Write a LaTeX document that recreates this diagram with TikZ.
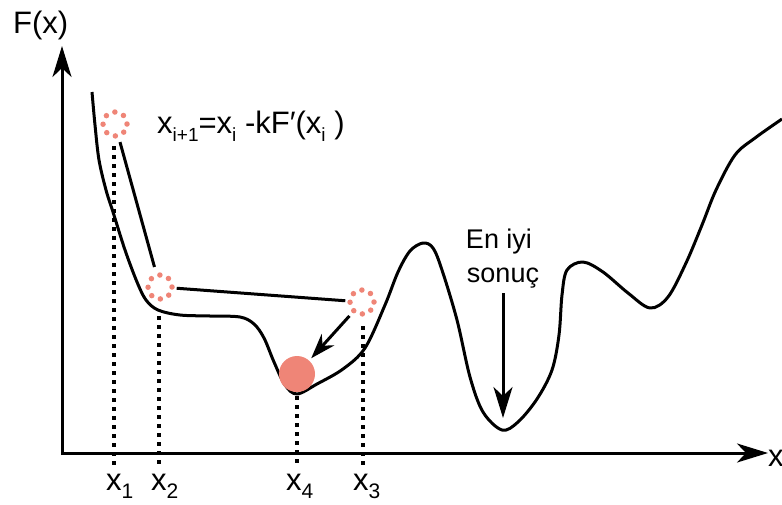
\documentclass[tikz,border=0pt]{standalone}
\usepackage{fontspec}
\setmainfont{Liberation Sans}
\usetikzlibrary{arrows.meta}
\definecolor{salmon}{HTML}{EF8577}
\newcommand\lbl[3]{#1\raisebox{-8pt}{\fontsize{#3}{#3}\selectfont #2}}
\tikzset{
  curveline/.style={line width=3pt, line join=round},
  axisline/.style={line width=3pt, -{Stealth[length=31pt,width=19pt,inset=9pt]}},
  conn/.style={line width=3pt},
  steparrow/.style={line width=3pt, -{Stealth[length=25pt,width=17pt,inset=8pt]}},
  guide/.style={line width=4pt, dash pattern=on 4pt off 5pt},
  dotring/.style={circle, draw=salmon, minimum size=24pt, inner sep=0pt, line width=5.5pt, line cap=round, dash pattern=on 0pt off 9.425pt},
  ball/.style={circle, fill=salmon, minimum size=36pt, inner sep=0pt},
  txt/.style={inner sep=0pt, font=\fontsize{31}{34}\selectfont},
  small/.style={inner sep=0pt, font=\fontsize{27}{30}\selectfont},
}
\begin{document}
\begin{tikzpicture}[x=1pt, y=-1pt]
\useasboundingbox (0,0) rectangle (782,504);
% axes
\coordinate (o) at (62,455);
\coordinate (ytip) at (62,46);
\coordinate (xtip) at (768,453);
\draw[axisline] (o) -- (ytip);
\draw[axisline] (62,453) -- (xtip);
\node[txt, anchor=base west] (fx) at (13,33) {F(x)};
\node[txt, anchor=base west] (xl) at (768,466) {x};
% curve
\draw[curveline] plot[smooth, tension=0.55] coordinates {
 (92,92) (95,125) (99,160) (106,190) (113,212) (125,250) (137,282) (146,300) (158,310)
 (180,315) (210,316) (240,317) (254,324) (264,338) (274,362) (285,385) (297,394)
 (317,384) (343,369) (365,348) (385,305) (398,272) (410,251) (423,243) (433,248)
 (442,270) (457,320) (470,377) (483,412) (502,430) (518,422) (537,399) (552,370)
 (559,335) (562,295) (567,270) (583,262) (603,272) (628,293) (650,308) (668,297)
 (686,263) (702,225) (716,190) (735,155) (755,138) (782,119)};
% steps
\node[dotring] (c1) at (115,124) {};
\node[dotring] (c2) at (160,287) {};
\node[dotring] (c3) at (362,302) {};
\node[ball] (b) at (297,374) {};
\draw[conn, shorten <=4pt, shorten >=6pt] (c1) -- (c2);
\draw[conn, shorten <=2pt, shorten >=2pt] (c2) -- (c3);
\draw[steparrow, shorten <=4pt, shorten >=3pt] (c3) -- (b);
% guides
\coordinate (g1t) at (114,146); \coordinate (g1b) at (114,467);
\coordinate (g2t) at (159,316); \coordinate (g2b) at (159,467);
\coordinate (g4t) at (297,396); \coordinate (g4b) at (297,467);
\coordinate (g3t) at (363,326); \coordinate (g3b) at (363,467);
\draw[guide] (g1t) -- (g1b);
\draw[guide] (g2t) -- (g2b);
\draw[guide] (g4t) -- (g4b);
\draw[guide] (g3t) -- (g3b);
\node[txt, anchor=base west] (l1) at (106,490) {\lbl{x}{1}{21}};
\node[txt, anchor=base west] (l2) at (151,490) {\lbl{x}{2}{21}};
\node[txt, anchor=base west] (l4) at (286,490) {\lbl{x}{4}{21}};
\node[txt, anchor=base west] (l3) at (353,490) {\lbl{x}{3}{21}};
% formula
\node[txt, anchor=base west] (f) at (157,133) {\lbl{x}{i+1}{19}=\lbl{x}{i}{19} -kF′(\lbl{x}{i}{19} )};
% best
\node[small, anchor=base] (e1) at (499,248) {En iyi};
\node[small, anchor=base] (e2) at (503,282) {sonuç};
\coordinate (bs) at (503,293);
\coordinate (bt) at (503,418);
\draw[axisline] (bs) -- (bt);
\end{tikzpicture}
\end{document}
